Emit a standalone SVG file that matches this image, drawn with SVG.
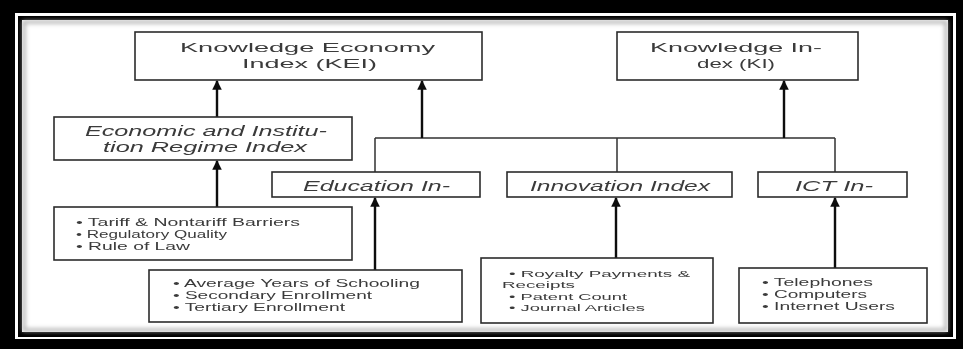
<svg xmlns="http://www.w3.org/2000/svg" width="963" height="349" viewBox="0 0 963 349">
<defs>
<style>
.box{fill:#fff;stroke:#2a2a2a;stroke-width:1.6}
.t{font-family:"Liberation Sans",Arial,sans-serif;fill:#3a3a3a}
.h{font-size:13.5px}
.i{font-size:14px;font-style:italic}
.ei{font-size:14px;font-style:italic}
.b{font-size:10px}
.r{font-size:9.6px}
.tree{stroke:#333;stroke-width:1.5;fill:none}
.arr{stroke:#111;stroke-width:2.4;fill:none;marker-end:url(#ah)}
</style>
<marker id="ah" viewBox="0 0 10 10" refX="9" refY="5" markerWidth="4" markerHeight="4" orient="auto" markerUnits="strokeWidth">
<path d="M0,0 L10,5 L0,10 z" fill="#111"/>
</marker>
<filter id="soft" x="-5%" y="-5%" width="110%" height="110%"><feGaussianBlur stdDeviation="0.45"/></filter>
<filter id="sh" x="-5%" y="-5%" width="110%" height="110%"><feGaussianBlur stdDeviation="2"/></filter>
</defs>
<rect x="0" y="0" width="963" height="349" fill="#000"/>
<rect x="15" y="13" width="941" height="326" fill="#fff"/>
<rect x="18" y="16" width="935" height="321" fill="#000"/>
<rect x="22" y="20" width="926" height="312" fill="#fff"/>
<rect x="24" y="22" width="922" height="308" fill="none" stroke="#aaa" stroke-width="3" filter="url(#sh)"/>
<g filter="url(#soft)">
<g id="connectors">
<path class="tree" d="M375,138 H835 M375,138 V172 M617,138 V172 M835,138 V172"/>
<line class="arr" x1="217" y1="117" x2="217" y2="81"/>
<line class="arr" x1="217" y1="207" x2="217" y2="161"/>
<line class="arr" x1="422" y1="138" x2="422" y2="81"/>
<line class="arr" x1="784" y1="138" x2="784" y2="81"/>
<line class="arr" x1="375" y1="270" x2="375" y2="198"/>
<line class="arr" x1="616" y1="258" x2="616" y2="198"/>
<line class="arr" x1="835" y1="268" x2="835" y2="198"/>
</g>
<g id="kei">
<rect class="box" x="135" y="32" width="347" height="48"/>
<text class="t h" x="180" y="52" textLength="255" lengthAdjust="spacingAndGlyphs">Knowledge Economy</text>
<text class="t h" x="242" y="68" textLength="135" lengthAdjust="spacingAndGlyphs">Index (KEI)</text>
</g>
<g id="ki">
<rect class="box" x="617" y="32" width="241" height="48"/>
<text class="t h" x="650" y="52" textLength="172" lengthAdjust="spacingAndGlyphs">Knowledge In-</text>
<text class="t h" x="697" y="68" textLength="78" lengthAdjust="spacingAndGlyphs">dex (KI)</text>
</g>
<g id="econ">
<rect class="box" x="54" y="117" width="298" height="43"/>
<text class="t ei" x="85" y="136" textLength="242" lengthAdjust="spacingAndGlyphs">Economic and Institu-</text>
<text class="t ei" x="103" y="152" textLength="204" lengthAdjust="spacingAndGlyphs">tion Regime Index</text>
</g>
<g id="edu">
<rect class="box" x="272" y="172" width="208" height="25"/>
<text class="t i" x="303" y="191" textLength="147" lengthAdjust="spacingAndGlyphs">Education In-</text>
</g>
<g id="innov">
<rect class="box" x="507" y="172" width="225" height="25"/>
<text class="t i" x="530" y="191" textLength="180" lengthAdjust="spacingAndGlyphs">Innovation Index</text>
</g>
<g id="ict">
<rect class="box" x="758" y="172" width="149" height="25"/>
<text class="t i" x="795" y="191" textLength="78" lengthAdjust="spacingAndGlyphs">ICT In-</text>
</g>
<g id="econ-items">
<rect class="box" x="54" y="207" width="298" height="53"/>
<text class="t b" x="76" y="226" textLength="224" lengthAdjust="spacingAndGlyphs">• Tariff &amp; Nontariff Barriers</text>
<text class="t b" x="76" y="238" textLength="151" lengthAdjust="spacingAndGlyphs">• Regulatory Quality</text>
<text class="t b" x="76" y="250" textLength="114" lengthAdjust="spacingAndGlyphs">• Rule of Law</text>
</g>
<g id="edu-items">
<rect class="box" x="149" y="270" width="313" height="52"/>
<text class="t b" x="173" y="287" textLength="247" lengthAdjust="spacingAndGlyphs">• Average Years of Schooling</text>
<text class="t b" x="173" y="299" textLength="199" lengthAdjust="spacingAndGlyphs">• Secondary Enrollment</text>
<text class="t b" x="173" y="311" textLength="172" lengthAdjust="spacingAndGlyphs">• Tertiary Enrollment</text>
</g>
<g id="innov-items">
<rect class="box" x="481" y="258" width="232" height="65"/>
<text class="t r" x="509" y="276.5" textLength="181" lengthAdjust="spacingAndGlyphs">• Royalty Payments &amp;</text>
<text class="t r" x="502" y="288" textLength="73" lengthAdjust="spacingAndGlyphs">Receipts</text>
<text class="t r" x="509" y="299.5" textLength="118" lengthAdjust="spacingAndGlyphs">• Patent Count</text>
<text class="t r" x="509" y="311" textLength="136" lengthAdjust="spacingAndGlyphs">• Journal Articles</text>
</g>
<g id="ict-items">
<rect class="box" x="739" y="268" width="188" height="55"/>
<text class="t b" x="762" y="286" textLength="111" lengthAdjust="spacingAndGlyphs">• Telephones</text>
<text class="t b" x="762" y="298" textLength="105" lengthAdjust="spacingAndGlyphs">• Computers</text>
<text class="t b" x="762" y="310" textLength="133" lengthAdjust="spacingAndGlyphs">• Internet Users</text>
</g>
</g>
</svg>
